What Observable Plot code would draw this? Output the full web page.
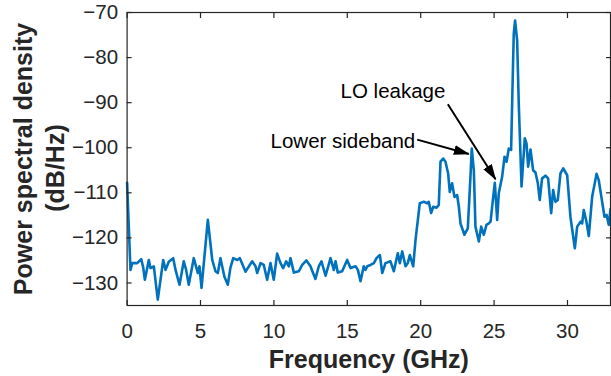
<!DOCTYPE html>
<html><head><meta charset="utf-8">
<script src="https://cdn.jsdelivr.net/npm/d3@7"></script>
<script src="https://cdn.jsdelivr.net/npm/@observablehq/plot@0.6"></script>
<style>body{margin:0;background:#fff;} #chart svg{display:block;}</style>
</head><body><div id="chart"></div>
<script>
// ---- data ----
const freqGHz = [
  0.00, 0.23, 0.35, 0.69, 0.96, 1.10, 1.21, 1.48, 1.59, 1.82, 2.09, 2.46, 2.62, 2.84, 3.14, 3.30, 3.57, 3.86, 4.02, 4.20,
  4.54, 4.82, 4.93, 5.07, 5.50, 5.80, 6.02, 6.18, 6.36, 6.63, 6.86, 7.04, 7.23, 7.50, 7.68, 8.07, 8.22, 8.52, 8.75, 8.86,
  9.09, 9.31, 9.54, 9.77, 9.99, 10.22, 10.45, 10.63, 10.84, 11.02, 11.13, 11.36, 11.70, 11.93, 12.22, 12.49, 12.83, 13.06, 13.24, 13.52,
  13.86, 14.08, 14.20, 14.35, 14.65, 14.99, 15.22, 15.56, 15.72, 15.90, 16.12, 16.24, 16.36, 16.58, 16.81, 16.99, 17.22, 17.38, 17.60, 17.94,
  18.17, 18.44, 18.58, 18.74, 18.97, 19.12, 19.26, 19.49, 19.65, 19.94, 20.21, 20.44, 20.55, 20.71, 20.85, 21.08, 21.23, 21.35, 21.53, 21.69,
  21.87, 21.98, 22.14, 22.30, 22.48, 22.60, 22.71, 22.98, 23.21, 23.39, 23.48, 23.62, 23.73, 23.96, 24.12, 24.30, 24.48, 24.64, 24.76, 24.94,
  25.05, 25.21, 25.32, 25.55, 25.71, 25.85, 26.00, 26.16, 26.27, 26.34, 26.43, 26.57, 26.68, 26.87, 27.09, 27.21, 27.32, 27.48, 27.66, 27.82,
  27.98, 28.11, 28.27, 28.50, 28.68, 28.89, 29.02, 29.18, 29.34, 29.52, 29.71, 29.98, 30.20, 30.50, 30.66, 30.89, 31.00, 31.11, 31.29, 31.45,
  31.68, 31.98, 32.13, 32.36, 32.52, 32.66, 32.81, 32.93
];
const psdDb = [
  -107.8, -127.1, -125.6, -125.6, -124.7, -126.6, -129.3, -124.9, -126.7, -126.3, -133.7, -124.9, -127.1, -125.3, -124.5, -127.1, -130.4, -125.2, -127.1, -130.4,
  -124.5, -127.8, -126.3, -131.1, -116.0, -124.9, -127.4, -127.8, -124.5, -128.6, -130.4, -126.6, -124.5, -124.9, -124.5, -127.5, -126.7, -125.2, -126.3, -127.8,
  -125.6, -126.0, -129.3, -125.6, -129.3, -123.5, -125.6, -126.7, -125.2, -126.3, -124.5, -127.7, -127.4, -126.0, -125.0, -126.3, -129.1, -126.3, -125.2, -128.4,
  -124.5, -127.1, -125.2, -127.7, -127.4, -124.9, -126.7, -126.3, -127.1, -129.6, -126.3, -127.1, -126.3, -126.0, -125.6, -124.5, -123.8, -127.8, -125.6, -125.2,
  -127.4, -123.4, -125.6, -123.0, -126.3, -125.6, -123.8, -126.3, -120.4, -112.3, -112.0, -112.3, -112.0, -114.5, -113.1, -113.3, -112.7, -103.1, -102.4, -103.1,
  -105.7, -109.8, -107.9, -110.9, -110.5, -113.1, -116.8, -119.3, -117.9, -106.4, -100.2, -105.0, -117.5, -120.8, -117.5, -119.3, -117.1, -116.8, -116.4, -110.9,
  -107.8, -116.0, -110.1, -106.4, -102.0, -103.1, -100.2, -100.5, -84.3, -74.7, -71.8, -76.2, -90.2, -108.6, -97.9, -99.1, -104.2, -100.4, -105.0, -105.5,
  -107.9, -111.6, -106.8, -106.2, -106.8, -114.5, -109.4, -112.0, -111.6, -105.7, -104.6, -106.1, -115.3, -122.3, -117.5, -116.4, -116.8, -113.8, -116.4, -119.6,
  -110.9, -105.8, -107.2, -112.0, -115.3, -114.9, -117.1, -113.6
];
const xTicks = [0, 5, 10, 15, 20, 25, 30];
const yTicks = [-130, -120, -110, -100, -90, -80, -70];
const xDomain = [0, 32.93];
const yDomain = [-135, -70];

const noteLabels = ["LO leakage", "Lower sideband"];
const noteX = [14.54, 9.77];
const noteY = [-87.6, -98.7];
const arrowFromX = [21.85, 19.76];
const arrowFromY = [-90.35, -98.2];
const arrowToX = [25.10, 23.28];
const arrowToY = [-107.0, -101.4];

// ---- tables built from the arrays ----
const spectrum = freqGHz.map((f, i) => ({f, p: psdDb[i]}));
const notes = noteLabels.map((t, i) => ({t, x: noteX[i], y: noteY[i]}));
const arrows = arrowFromX.map((x1, i) => ({x1, y1: arrowFromY[i], x2: arrowToX[i], y2: arrowToY[i]}));

const ink = "#262626";
const font = "'Liberation Sans', Arial, Helvetica, sans-serif";

const chart = Plot.plot({
  width: 611,
  height: 376,
  marginLeft: 126.6,
  marginRight: 1,
  marginTop: 12,
  marginBottom: 71,
  style: {fontFamily: font, color: ink, background: "#fff", overflow: "visible"},
  x: {domain: xDomain, ticks: xTicks},
  y: {domain: yDomain, ticks: yTicks},
  marks: [
    Plot.line(spectrum, {x: "f", y: "p", stroke: "#0072BD", strokeWidth: 2.6, strokeLinejoin: "round", curve: "linear"}),
    Plot.frame({stroke: ink, strokeWidth: 1.2}),
    // inward tick marks on all four sides
    Plot.axisX({anchor: "bottom", ticks: xTicks, tickSize: -5, text: null, label: null, strokeWidth: 1.2}),
    Plot.axisX({anchor: "top", ticks: xTicks, tickSize: -5, text: null, label: null, strokeWidth: 1.2}),
    Plot.axisY({anchor: "left", ticks: yTicks, tickSize: -5, text: null, label: null, strokeWidth: 1.2}),
    Plot.axisY({anchor: "right", ticks: yTicks, tickSize: -5, text: null, label: null, strokeWidth: 1.2}),
    // tick labels
    Plot.axisX({anchor: "bottom", ticks: xTicks, tickSize: 0, tickPadding: 17.5, label: null, fontSize: 20.5, fill: ink}),
    Plot.axisY({anchor: "left", ticks: yTicks, tickSize: 0, tickPadding: 9, label: null, fontSize: 20.5, fill: ink}),
    // axis titles
    Plot.text(["Frequency (GHz)"], {frameAnchor: "bottom", lineAnchor: "top", dy: 44.5, fontSize: 25, fontWeight: "bold", fill: ink}),
    Plot.text(["Power spectral density"], {frameAnchor: "left", textAnchor: "middle", rotate: -90, dx: -103.6, fontSize: 25, fontWeight: "bold", fill: ink}),
    Plot.text(["(dB/Hz)"], {frameAnchor: "left", textAnchor: "middle", rotate: -90, dx: -71.6, dy: 9, fontSize: 25, fontWeight: "bold", fill: ink}),
    // annotations
    Plot.text(notes, {x: "x", y: "y", text: "t", textAnchor: "start", fontSize: 20.5, fill: "#000"}),
    Plot.link(arrows, {x1: "x1", y1: "y1", x2: "x2", y2: "y2", stroke: "#000", strokeWidth: 2, className: "note-arrow"})
  ]
});

// filled arrowheads on the annotation links
const svgNS = "http://www.w3.org/2000/svg";
const defs = document.createElementNS(svgNS, "defs");
const marker = document.createElementNS(svgNS, "marker");
marker.setAttribute("id", "filled-head");
marker.setAttribute("markerUnits", "userSpaceOnUse");
marker.setAttribute("markerWidth", "16");
marker.setAttribute("markerHeight", "10");
marker.setAttribute("viewBox", "0 0 16 10");
marker.setAttribute("refX", "15");
marker.setAttribute("refY", "5");
marker.setAttribute("orient", "auto");
const head = document.createElementNS(svgNS, "path");
head.setAttribute("d", "M0,0 L16,5 L0,10 Z");
head.setAttribute("fill", "#000");
marker.appendChild(head);
defs.appendChild(marker);
chart.insertBefore(defs, chart.firstChild);
chart.querySelectorAll(".note-arrow path").forEach(p => p.setAttribute("marker-end", "url(#filled-head)"));

document.getElementById("chart").appendChild(chart);
</script></body></html>
